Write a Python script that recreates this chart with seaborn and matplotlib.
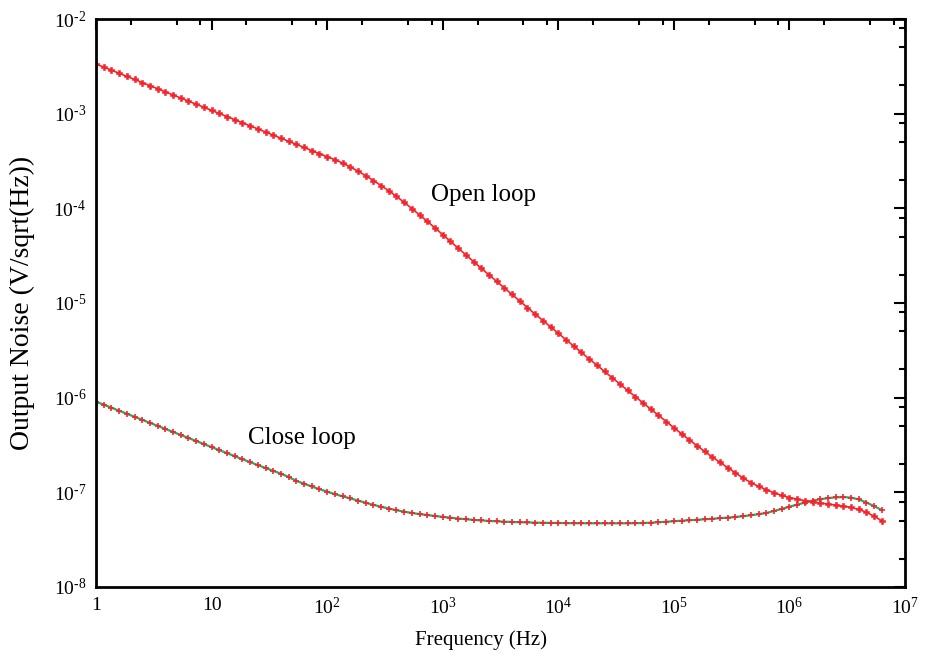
import numpy as np
import pandas as pd
import matplotlib
matplotlib.use("Agg")
import matplotlib.pyplot as plt
import seaborn as sns
from matplotlib.ticker import FixedLocator, FixedFormatter, NullFormatter

# Frequency sweep: 15 points per decade, 1 Hz .. ~6.3 MHz
freq = np.logspace(0, 6.8, 103)

# log10 of output noise (V/sqrt(Hz))
open_loop_log10 = [
    -2.475, -2.508, -2.540, -2.573, -2.606, -2.638, -2.671, -2.704, -2.736, -2.769,
    -2.802, -2.834, -2.867, -2.900, -2.932, -2.965, -2.998, -3.030, -3.063, -3.096,
    -3.128, -3.161, -3.194, -3.226, -3.259, -3.292, -3.324, -3.357, -3.390, -3.422,
    -3.455, -3.485, -3.522, -3.563, -3.607, -3.655, -3.706, -3.759, -3.815, -3.874,
    -3.937, -4.003, -4.070, -4.138, -4.207, -4.278, -4.349, -4.420, -4.491, -4.562,
    -4.633, -4.702, -4.771, -4.841, -4.910, -4.979, -5.049, -5.118, -5.185, -5.253,
    -5.320, -5.388, -5.455, -5.522, -5.590, -5.656, -5.723, -5.790, -5.856, -5.923,
    -5.990, -6.055, -6.121, -6.186, -6.252, -6.317, -6.382, -6.445, -6.507, -6.568,
    -6.627, -6.684, -6.740, -6.795, -6.850, -6.897, -6.938, -6.972, -7.005, -7.032,
    -7.055, -7.072, -7.088, -7.100, -7.112, -7.124, -7.135, -7.146, -7.160, -7.180,
    -7.212, -7.252, -7.302,
]
close_loop_log10 = [
    -6.042, -6.074, -6.106, -6.138, -6.170, -6.202, -6.234, -6.266, -6.298, -6.330,
    -6.362, -6.394, -6.426, -6.458, -6.490, -6.522, -6.554, -6.586, -6.618, -6.650,
    -6.681, -6.712, -6.743, -6.773, -6.803, -6.838, -6.879, -6.909, -6.938, -6.966,
    -6.993, -7.019, -7.042, -7.064, -7.087, -7.110, -7.132, -7.152, -7.171, -7.189,
    -7.204, -7.218, -7.230, -7.240, -7.250, -7.259, -7.268, -7.277, -7.284, -7.291,
    -7.297, -7.302, -7.306, -7.310, -7.313, -7.316, -7.318, -7.320, -7.322, -7.323,
    -7.324, -7.325, -7.326, -7.326, -7.327, -7.327, -7.327, -7.327, -7.327, -7.327,
    -7.326, -7.324, -7.321, -7.316, -7.311, -7.305, -7.300, -7.295, -7.290, -7.285,
    -7.279, -7.273, -7.267, -7.260, -7.252, -7.242, -7.231, -7.218, -7.197, -7.175,
    -7.152, -7.130, -7.108, -7.089, -7.073, -7.061, -7.053, -7.050, -7.056, -7.075,
    -7.108, -7.146, -7.188,
]

x_ticks = [1, 10, 1e2, 1e3, 1e4, 1e5, 1e6, 1e7]
x_tick_labels = ["1", "10", "$10^{2}$", "$10^{3}$", "$10^{4}$", "$10^{5}$", "$10^{6}$", "$10^{7}$"]
y_ticks = [1e-8, 1e-7, 1e-6, 1e-5, 1e-4, 1e-3, 1e-2]
y_tick_labels = [r"$10^{\text{-}8}$", r"$10^{\text{-}7}$", r"$10^{\text{-}6}$", r"$10^{\text{-}5}$",
                 r"$10^{\text{-}4}$", r"$10^{\text{-}3}$", r"$10^{\text{-}2}$"]

open_noise = 10 ** np.array(open_loop_log10)
close_noise = 10 ** np.array(close_loop_log10)
df_open = pd.DataFrame({"freq": freq, "noise": open_noise})
df_close = pd.DataFrame({"freq": freq, "noise": close_noise})

sns.set_style("white")
plt.rcParams["font.family"] = ["Liberation Serif", "DejaVu Serif"]
plt.rcParams["mathtext.fontset"] = "custom"
plt.rcParams["mathtext.rm"] = "Liberation Serif"
plt.rcParams["mathtext.it"] = "Liberation Serif:italic"
plt.rcParams["mathtext.default"] = "regular"
plt.rcParams["text.color"] = "black"
plt.rcParams["axes.labelcolor"] = "black"

RED = "#f7232b"
GREEN = "#1fae66"

fig = plt.figure(figsize=(9.3, 6.62), dpi=100)
ax = fig.add_axes([96 / 930, 1 - 587 / 662, (905 - 96) / 930, (587 - 19) / 662])

sns.lineplot(data=df_close, x="freq", y="noise", ax=ax, color=GREEN, linewidth=1.6,
             marker="+", markersize=5, markeredgewidth=1.2, markeredgecolor=RED,
             markerfacecolor=RED)
sns.lineplot(data=df_open, x="freq", y="noise", ax=ax, color=RED, linewidth=1.2,
             marker="P", markersize=4.3, markeredgewidth=0.4, markeredgecolor=RED,
             markerfacecolor=RED)

ax.set_xscale("log")
ax.set_yscale("log")
ax.set_xlim(1, 1e7)
ax.set_ylim(1e-8, 1e-2)

ax.xaxis.set_major_locator(FixedLocator(x_ticks))
ax.xaxis.set_major_formatter(FixedFormatter(x_tick_labels))
ax.yaxis.set_major_locator(FixedLocator(y_ticks))
ax.yaxis.set_major_formatter(FixedFormatter(y_tick_labels))
minor_x = [m * d for d in [1, 10, 1e2, 1e3, 1e4, 1e5, 1e6] for m in (2, 5, 8)]
minor_y = [m * d for d in [1e-8, 1e-7, 1e-6, 1e-5, 1e-4, 1e-3] for m in (2, 5, 8)]
ax.xaxis.set_minor_locator(FixedLocator(minor_x))
ax.yaxis.set_minor_locator(FixedLocator(minor_y))
ax.xaxis.set_minor_formatter(NullFormatter())
ax.yaxis.set_minor_formatter(NullFormatter())

ax.tick_params(which="both", direction="in", top=True, right=True, colors="black",
               labelsize=14)
ax.tick_params(which="major", length=8, width=1.5, pad=7)
ax.tick_params(which="minor", length=4, width=1.5)
for s in ax.spines.values():
    s.set_linewidth(2)
    s.set_color("black")

ax.set_xlabel("Frequency (Hz)", fontsize=15)
ax.xaxis.set_label_coords((481 - 96) / 809, -(640 - 587) / 568)
ax.xaxis.label.set_verticalalignment("center")
ax.set_ylabel("Output Noise (V/sqrt(Hz))", fontsize=20)
ax.yaxis.set_label_coords((22 - 96) / 809, 0.5)
ax.yaxis.label.set_verticalalignment("center")

ax.text(2240, 1.38e-4, "Open loop", fontsize=18, ha="center", va="center")
ax.text(60.8, 3.75e-7, "Close loop", fontsize=18, ha="center", va="center")

fig.savefig("out.png", dpi=100)
